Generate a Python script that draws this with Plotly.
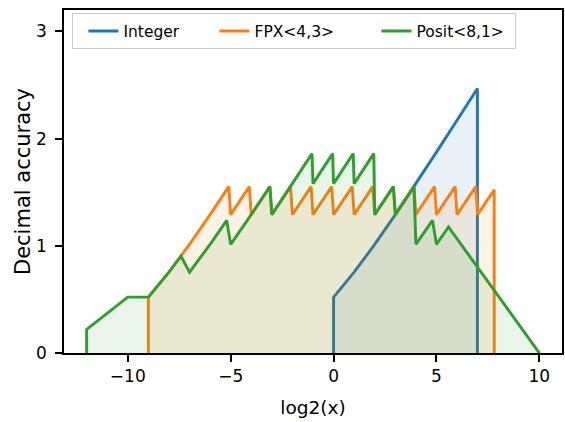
import plotly.graph_objects as go

# ---- data ----
int_x = [0, 0, 1, 1.585, 2, 3, 4, 5, 6, 6.989, 6.989]
int_y = [0, 0.521, 0.754, 0.903, 1.014, 1.291, 1.580, 1.874, 2.172, 2.467, 0]

fpx_x = [-9, -9, -8, -7.415, -7, -6, -5.093, -5, -4.093, -4, -3.093, -3, -2.093,
         -2, -1.093, -1, -0.093, 0, 0.907, 1, 1.907, 2, 2.907, 3, 3.907, 4, 4.907,
         5, 5.907, 6, 6.907, 7, 7.807, 7.807]
fpx_y = [0, 0.521, 0.754, 0.903, 1.014, 1.291, 1.552, 1.291, 1.552, 1.291, 1.552, 1.291, 1.552,
         1.291, 1.552, 1.291, 1.552, 1.291, 1.552, 1.291, 1.552, 1.291, 1.552, 1.291, 1.552, 1.291, 1.552,
         1.291, 1.552, 1.291, 1.552, 1.291, 1.523, 0]

posit_x = [-12, -12, -10, -9, -8, -7.415, -7, -6.415, -6, -5.193, -5, -4.193, -4,
           -3.093, -3, -2.093, -2, -1.046, -1, -0.046, 0, 0.954, 1, 1.954, 2,
           2.907, 3, 3.907, 4, 4.807, 5, 5.585, 10]
posit_y = [0, 0.220, 0.521, 0.521, 0.754, 0.903, 0.754, 0.903, 1.014, 1.237, 1.014, 1.237, 1.291,
           1.552, 1.291, 1.552, 1.580, 1.860, 1.580, 1.860, 1.580, 1.860, 1.580, 1.860, 1.291,
           1.552, 1.291, 1.552, 1.014, 1.237, 1.014, 1.176, 0]

series_names = ["Integer", "FPX<4,3>", "Posit<8,1>"]
x_ticks = [-10, -5, 0, 5, 10]
x_tick_labels = ["\u221210", "\u22125", "0", "5", "10"]
y_ticks = [0, 1, 2, 3]
y_tick_labels = ["0", "1", "2", "3"]

colors = ["#1f77b4", "#ff7f0e", "#2ca02c"]
fills = ["rgba(31,119,180,0.1)", "rgba(255,127,14,0.1)", "rgba(44,160,44,0.1)"]
legend_widths = [76, 107, 94]
FONT = "DejaVu Sans"

fig = go.Figure()
for xs, ys, name, c, fc, lw in zip([int_x, fpx_x, posit_x], [int_y, fpx_y, posit_y],
                                   series_names, colors, fills, legend_widths):
    fig.add_trace(go.Scatter(x=xs, y=ys, mode="lines", fill="tozeroy", fillcolor=fc,
                             line=dict(width=0, color=c), showlegend=False, hoverinfo="skip"))
    fig.add_trace(go.Scatter(x=xs, y=ys, mode="lines", name=name,
                             line=dict(width=2.9, color=c), legendwidth=lw))

axis_common = dict(showline=True, linecolor="black", linewidth=1.6, mirror=True,
                   ticks="outside", ticklen=7, tickwidth=1.6, tickcolor="black",
                   showgrid=False, zeroline=False, automargin=False,
                   tickfont=dict(family=FONT, size=17, color="black"))

fig.update_layout(
    width=565, height=422,
    margin=dict(l=64, r=3, t=10, b=69, autoexpand=False),
    paper_bgcolor="white", plot_bgcolor="white",
    font=dict(family=FONT, color="black"),
    xaxis=dict(range=[-13.1, 11.1], tickvals=x_ticks, ticktext=x_tick_labels,
               title=dict(text="log2(x)", font=dict(family=FONT, size=18.5), standoff=16),
               **axis_common),
    yaxis=dict(range=[0, 3.2], tickvals=y_ticks, ticktext=y_tick_labels,
               ticklabelstandoff=5,
               title=dict(text="Decimal accuracy", font=dict(family=FONT, size=21), standoff=0),
               **axis_common),
    legend=dict(orientation="h", x=0.017, y=0.99, xanchor="left", yanchor="top",
                indentation=10,
                bgcolor="rgba(255,255,255,0.8)", bordercolor="#cccccc", borderwidth=1,
                font=dict(family=FONT, size=15.5, color="black")),
)

fig.write_html("out.html", config={"displayModeBar": False},
               post_script="document.body.style.margin='0px';")
